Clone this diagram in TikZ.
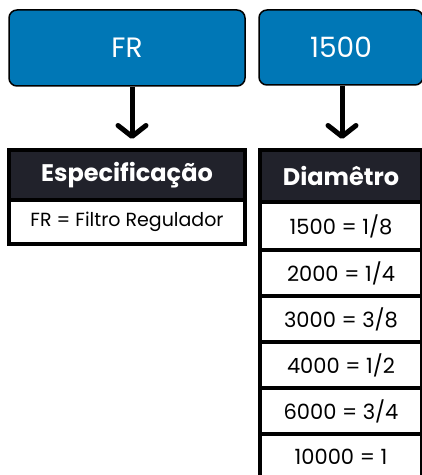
\documentclass[tikz,border=0pt]{standalone}
\usepackage{fontspec}
\setmainfont{Poppins}
\usetikzlibrary{positioning,arrows.meta}
\definecolor{boxblue}{RGB}{0,119,182}
\definecolor{headdark}{RGB}{33,34,43}
\tikzset{
  codebox/.style = {rectangle, rounded corners=8pt, draw=black, line width=1.5pt,
    fill=boxblue, text=white, font=\fontsize{28}{32}\selectfont, inner sep=0pt},
  headcell/.style = {rectangle, draw=black, line width=3.5pt, fill=headdark,
    text=white, font=\bfseries\fontsize{24}{28}\selectfont, inner sep=0pt, outer sep=0pt},
  valcell/.style = {rectangle, draw=black, line width=3.5pt, fill=white,
    font=\fontsize{21}{25}\selectfont, inner sep=0pt, outer sep=0pt},
  downarrow/.style = {draw, line width=5pt,
    -{Straight Barb[length=11pt,width=28pt,round]}, shorten >=11pt}
}
\begin{document}
\begin{tikzpicture}[x=1pt,y=1pt]
\useasboundingbox (0,0) rectangle (422,475);
% top code boxes
\node[codebox, minimum width=236pt, minimum height=76pt] (fr) at (127,427) {FR};
\node[codebox, minimum width=164pt, minimum height=75pt] (diam) at (341,427.5) {1500};
% left table
\node[headcell, minimum width=236pt, minimum height=50pt] (spec) at (127,300) {Especificação};
\node[valcell, minimum width=236pt, minimum height=44pt, below=0pt of spec,
  font=\fontsize{19}{23}\selectfont] (frrow) {FR = Filtro Regulador};
% right table
\node[headcell, minimum width=162pt, minimum height=52pt] (dhead) at (341,299) {Diamêtro};
\node[valcell, minimum width=162pt, minimum height=48pt, below=0pt of dhead] (r1) {1500 = 1/8};
\node[valcell, minimum width=162pt, minimum height=46pt, below=0pt of r1] (r2) {2000 = 1/4};
\node[valcell, minimum width=162pt, minimum height=46pt, below=0pt of r2] (r3) {3000 = 3/8};
\node[valcell, minimum width=162pt, minimum height=46pt, below=0pt of r3] (r4) {4000 = 1/2};
\node[valcell, minimum width=162pt, minimum height=46pt, below=0pt of r4] (r5) {6000 = 3/4};
\node[valcell, minimum width=162pt, minimum height=46pt, below=0pt of r5] (r6) {10000 = 1};
% arrows
\draw[downarrow] (fr.south) ++(5,0) coordinate (a1) (a1) -- (a1 |- spec.north);
\draw[downarrow] (diam.south) ++(1,0) coordinate (a2) (a2) -- (a2 |- dhead.north);
\end{tikzpicture}
\end{document}
